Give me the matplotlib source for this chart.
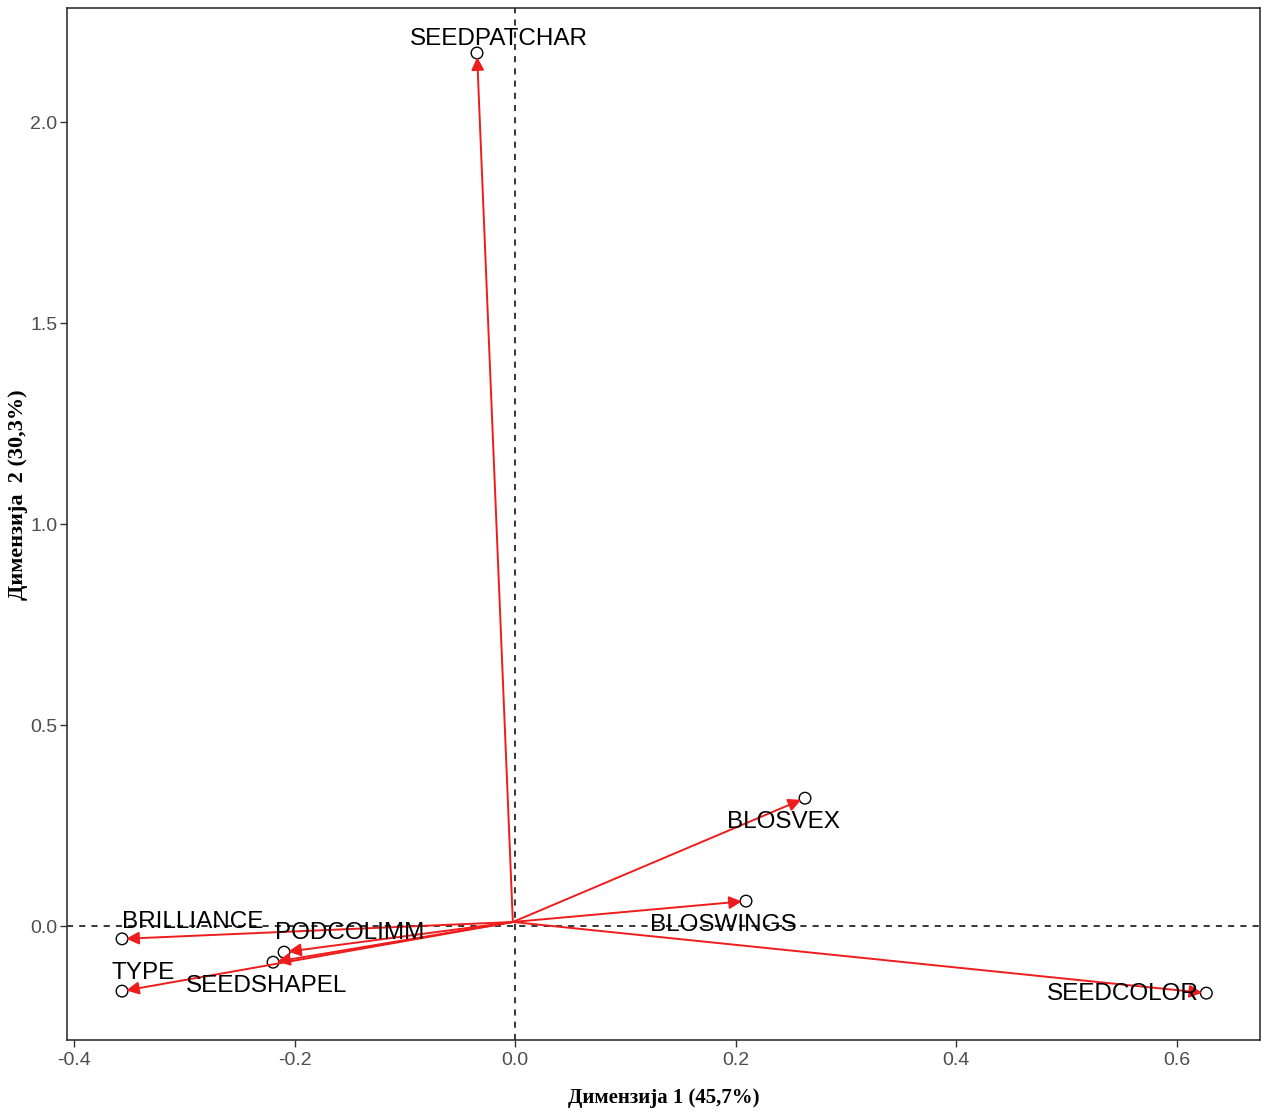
import matplotlib
matplotlib.use("Agg")
import matplotlib.pyplot as plt
import numpy as np

# variable coordinates on the first two dimensions
variables = ["SEEDPATCHAR", "BLOSVEX", "BLOSWINGS", "SEEDCOLOR",
             "BRILLIANCE", "PODCOLIMM", "TYPE", "SEEDSHAPEL"]
dim1 = [-0.0345, 0.263, 0.2095, 0.627, -0.3565, -0.2095, -0.3565, -0.2195]
dim2 = [2.172, 0.318, 0.062, -0.167, -0.032, -0.065, -0.162, -0.090]

# where each text label sits (label centre)
label_x = [-0.0145, 0.243, 0.189, 0.551, -0.292, -0.150, -0.337, -0.225]
label_y = [2.206, 0.259, 0.0025, -0.169, 0.010, -0.017, -0.117, -0.149]

origin = (-0.002, 0.010)

xticks = [-0.4, -0.2, 0.0, 0.2, 0.4, 0.6]
yticks = [0.0, 0.5, 1.0, 1.5, 2.0]

fig = plt.figure(figsize=(12.62, 11.15), dpi=100)
ax = fig.add_axes([67 / 1262, 1 - 1040 / 1115, (1260 - 67) / 1262, (1040 - 8) / 1115])

ax.axhline(0, color="black", linestyle=(0, (4, 4)), linewidth=1.1, zorder=1)
ax.axvline(0, color="black", linestyle=(0, (4, 4)), linewidth=1.1, zorder=1)

for x, y in zip(dim1, dim2):
    ax.annotate("", xy=(x, y), xytext=origin,
                arrowprops=dict(arrowstyle="-|>", color="#ee1c1c", lw=1.4,
                                mutation_scale=19, shrinkA=0, shrinkB=3),
                zorder=3)

ax.scatter(dim1, dim2, s=70, facecolors="none", edgecolors="black",
           linewidths=1.0, zorder=2)

for name, lx, ly in zip(variables, label_x, label_y):
    ax.text(lx, ly, name, ha="center", va="center", fontsize=17.5,
            family=["Liberation Sans", "DejaVu Sans"],
            color="black", zorder=4)

ax.set_xlim(-0.4064, 0.6757)
ax.set_ylim(-0.2836, 2.284)
ax.set_xticks(xticks)
ax.set_yticks(yticks)
ax.set_xticklabels([f"{t:.1f}" for t in xticks])
ax.set_yticklabels([f"{t:.1f}" for t in yticks])
for lab in ax.get_xticklabels() + ax.get_yticklabels():
    lab.set_family(["Liberation Sans", "DejaVu Sans"])
    lab.set_fontsize(14)
    lab.set_color("#4d4d4d")
ax.tick_params(direction="out", length=5, width=1, color="#333333")
ax.tick_params(axis="y", pad=2)

for spine in ax.spines.values():
    spine.set_color("#333333")
    spine.set_linewidth(1.2)

ax.set_xlabel("Димензија 1 (45,7%)", family=["Liberation Serif", "DejaVu Serif"],
              fontweight="bold", fontsize=15, labelpad=14)
ax.set_ylabel("Димензија  2 (30,3%)", family=["Liberation Serif", "DejaVu Serif"],
              fontweight="bold", fontsize=16)
ax.yaxis.set_label_coords(-0.033, 0.528)

fig.savefig("out.png", dpi=100)
